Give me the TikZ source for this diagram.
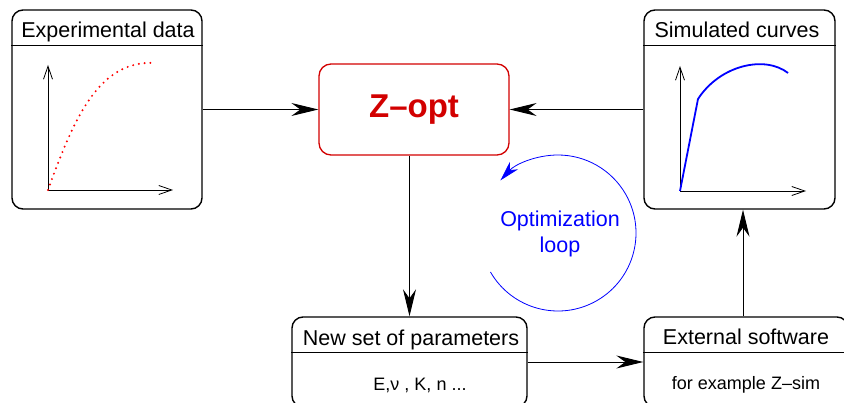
\documentclass[tikz,border=0pt]{standalone}
\usepackage{fontspec}
\setmainfont{Liberation Sans}
\usetikzlibrary{arrows.meta, calc}

\definecolor{optred}{RGB}{210,0,0}

\tikzset{
  panel/.style={draw, line width=1.4pt, rounded corners=11pt, inner sep=0pt},
  paneltitle/.style={anchor=base, font=\fontsize{21.5}{25}\selectfont},
  paneltext/.style={anchor=base, font=\fontsize{18}{21}\selectfont},
  flow/.style={-{Stealth[length=27pt, width=13pt, inset=9pt]}, line width=0.9pt},
  axis/.style={-{Straight Barb[length=13pt, width=9pt]}, line width=0.8pt}
}

\begin{document}
\begin{tikzpicture}[x=1pt, y=1pt]
    \useasboundingbox (0,0) rectangle (844,-403);

    % Experimental data panel
    \node[panel, minimum width=190pt, minimum height=199pt] (exp) at (107,-109.5) {};
    \draw[line width=1.4pt] ($(exp.north west)+(0,-36)$) -- ($(exp.north east)+(0,-36)$);
    \node[paneltitle] (exptitle) at (108,-38) {Experimental data};
    \coordinate (expO) at (48,-190);
    \draw[axis] (expO) -- (48,-65);
    \draw[axis] (expO) -- (173,-190);
    \draw[red, line width=2.2pt, line cap=round, dash pattern=on 0pt off 5.8pt]
      (expO) .. controls (75,-115) and (100,-60) .. (155,-63);

    % Simulated curves panel
    \node[panel, minimum width=191pt, minimum height=199pt] (sim) at (739.5,-109.5) {};
    \draw[line width=1.4pt] ($(sim.north west)+(0,-36)$) -- ($(sim.north east)+(0,-36)$);
    \node[paneltitle] (simtitle) at (737,-37.5) {Simulated curves};
    \coordinate (simO) at (680,-191);
    \draw[axis] (simO) -- (680,-66);
    \draw[axis] (simO) -- (806,-191);
    \draw[blue, line width=1.8pt]
      (simO) -- (698,-99) .. controls (720,-65) and (765,-55) .. (788,-73);

    % Optimizer
    \node[draw=optred, line width=1.3pt, rounded corners=12pt,
          minimum width=190pt, minimum height=91pt,
          text=optred, font=\bfseries\fontsize{33}{38}\selectfont] (zopt) at (414,-109.5) {Z–opt};

    % New set of parameters
    \node[panel, minimum width=235pt, minimum height=90pt] (params) at (409.5,-362) {};
    \draw[line width=1.4pt] ($(params.north west)+(0,-36)$) -- ($(params.north east)+(0,-36)$);
    \node[paneltitle] (paramstitle) at (411,-345.5) {New set of parameters};
    \node[paneltext] (paramslist) at (420,-390.5) {E,ν , K, n ...};

    % External software
    \node[panel, minimum width=204pt, minimum height=90pt] (ext) at (746,-362) {};
    \draw[line width=1.4pt] ($(ext.north west)+(0,-36)$) -- ($(ext.north east)+(0,-36)$);
    \node[paneltitle] (exttitle) at (746,-345) {External software};
    \node[paneltext] (extsoft) at (746,-390) {for example Z–sim};

    % Arrows between the blocks
    \draw[flow] (exp.east) -- (zopt.west);
    \draw[flow] (sim.west) -- (zopt.east);
    \draw[flow] (params.north |- zopt.south) -- (params.north);
    \draw[flow] (params.east) -- (ext.west);
    \draw[flow] ([xshift=-3pt]ext.north) -- ([xshift=-3pt]ext.north |- sim.south);

    % Optimization loop
    \coordinate (loopc) at (558,-233);
    \draw[blue, line width=0.8pt, -{Stealth[length=20pt, width=11pt, inset=6pt]}]
      ([shift={(210:78pt)}]loopc) arc[start angle=210, end angle=497.6, radius=78pt];
    \node[blue, align=center, font=\fontsize{21.5}{26}\selectfont] (looptext) at (560,-234) {Optimization\\loop};
\end{tikzpicture}
\end{document}
